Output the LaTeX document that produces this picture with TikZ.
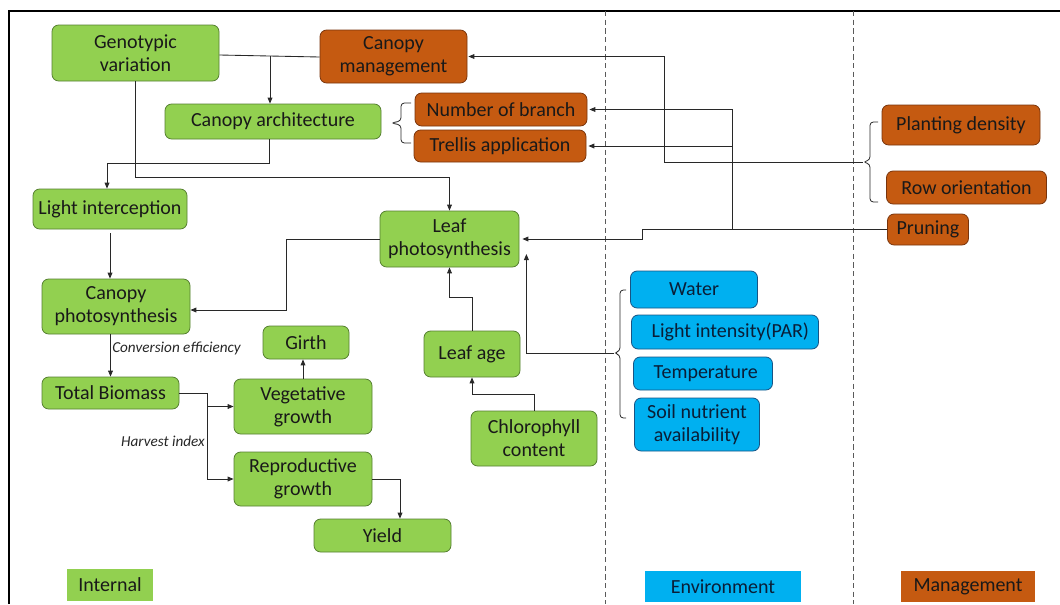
\documentclass[tikz,border=0pt]{standalone}
\usepackage{fontspec}
\setmainfont{Carlito}
\usetikzlibrary{arrows.meta,calc}
\definecolor{gfill}{RGB}{146,208,80}
\definecolor{gdraw}{RGB}{84,126,48}
\definecolor{ofill}{RGB}{197,90,17}
\definecolor{odraw}{RGB}{120,52,12}
\definecolor{bfill}{RGB}{0,176,240}
\definecolor{bdraw}{RGB}{24,84,132}
\definecolor{btext}{RGB}{10,30,55}
\definecolor{ln}{RGB}{40,40,40}
\definecolor{dash}{RGB}{90,90,90}
\begin{document}
\begin{tikzpicture}[x=0.75pt,y=-0.75pt,
  sz/.style 2 args={minimum width=#1*0.75pt, minimum height=#2*0.75pt},
  box/.style={rounded corners=5pt, draw, line width=0.6pt, align=center, inner sep=0pt,
              font=\fontsize{15}{17.4}\selectfont, text=black!90},
  gbox/.style={box, fill=gfill, draw=gdraw},
  obox/.style={box, fill=ofill, draw=odraw},
  bbox/.style={box, fill=bfill, draw=bdraw, text=btext},
  legend/.style={inner sep=0pt, align=center, font=\fontsize{15}{17.4}\selectfont, text=black!90},
  lab/.style={inner sep=0pt, font=\fontsize{11.4}{13}\itshape\selectfont, text=black!85},
  conn/.style={draw=ln, line width=0.65pt},
  arr/.style={conn, -{Triangle[length=4.5pt,width=3.6pt]}},
  bracket/.style={draw=ln, line width=0.6pt, rounded corners=2.5pt},
  divider/.style={draw=dash, line width=0.6pt, dash pattern=on 4pt off 2.5pt}
]
\useasboundingbox (0,0) rectangle (1060,604);
% frame and dividers
\draw[line width=1.5pt] (9,604) -- (9,11) -- (1060,11);
\draw[divider] (605,11) -- (605,604);
\draw[divider] (853,11) -- (853,604);

% internal nodes
\node[gbox, sz={167}{56}] (gen) at (135.5,53) {Genotypic\\variation};
\node[gbox, sz={216}{35}] (arch) at (273,121.5) {Canopy architecture};
\node[gbox, sz={154}{40}] (light) at (110,209) {Light interception};
\node[gbox, sz={139}{56}] (leafph) at (449.5,239) {Leaf\\photosynthesis};
\node[gbox, sz={148}{55}] (canph) at (116,306.5) {Canopy\\photosynthesis};
\node[gbox, sz={86}{33}] (girth) at (306,342.5) {Girth};
\node[gbox, sz={137}{32}] (biom) at (110.5,393) {Total Biomass};
\node[gbox, sz={138}{55}] (veg) at (303,406.5) {Vegetative\\growth};
\node[gbox, sz={138}{54}] (rep) at (303,479) {Reproductive\\growth};
\node[gbox, sz={137}{33}] (yield) at (382.5,535.5) {Yield};
\node[gbox, sz={96}{46}] (leafage) at (472,354) {Leaf age};
\node[gbox, sz={126}{55}] (chl) at (534,438.5) {Chlorophyll\\content};

% management nodes
\node[obox, sz={147}{53}] (cman) at (393.5,56.5) {Canopy\\management};
\node[obox, sz={172}{33}] (nob) at (501,109.5) {Number of branch};
\node[obox, sz={172}{32}] (trel) at (500,146) {Trellis application};
\node[obox, sz={158}{40}] (plant) at (961,125) {Planting density};
\node[obox, sz={160}{33}] (row) at (966.5,187.5) {Row orientation};
\node[obox, sz={81}{31}] (prun) at (928,229.5) {Pruning};

% environment nodes
\node[bbox, sz={127}{37}] (water) at (694,289.5) {Water};
\node[bbox, sz={187}{34}] (lint) at (725,332) {\hspace*{8pt}Light intensity(PAR)};
\node[bbox, sz={139}{33}] (temp) at (703,373.5) {\hspace*{4pt}Temperature};
\node[bbox, sz={125}{53}] (soil) at (697,424.5) {Soil nutrient\\availability};

% legend
\node[legend, fill=gfill, sz={86}{32}] (legI) at (110,585) {Internal};
\node[legend, fill=bfill, sz={156}{31}, text=btext] (legE) at (723,586.5) {Environment};
\node[legend, fill=ofill, sz={134}{31}] (legM) at (968,586.5) {Management};

% brackets
\draw[bracket] (411,103) -- (401,103) -- (401,121) -- (391,123) -- (401,125) -- (401,143) -- (411,143);
\coordinate (b1tip) at (391,123);
\draw[bracket] (878,122) -- (870,122) -- (870,160) -- (863,162) -- (870,164) -- (870,202) -- (878,202);
\coordinate (b2tip) at (863,162);
\draw[bracket] (626,290) -- (620,290) -- (620,351) -- (614,353) -- (620,355) -- (620,418) -- (626,418);
\coordinate (b3tip) at (614,353);

% connectors
\draw[conn] (gen.east |- 0,55) -- (cman.west |- 0,57);
\coordinate (j1) at (270,56);
\draw[arr] (j1) -- (j1 |- arch.north);
\draw[arr] (gen.south) -- (gen.south |- 0,177) -| (leafph.north);
\draw[arr] ($(arch.south)+(-3.5,0)$) -- ($(arch.south |- 0,163)+(-3.5,0)$) -| ($(light.north)+(-3,0)$);
\draw[arr] ($(light.south)+(0,4)$) -- (light.south |- canph.north);
\draw[arr] (leafph.west) -| (286,310) -- (canph.east |- 0,310);
\draw[arr] (biom.north |- canph.south) -- (biom.north);
\node[lab, anchor=west] (convlab) at (112,348) {Conversion efficiency};
\coordinate (j2) at (207,393);
\draw[conn] (biom.east) -- (j2);
\draw[arr] (j2) |- (veg.west);
\draw[arr] (j2) |- (rep.west);
\node[lab, anchor=east] (harvlab) at (205,441) {Harvest index};
\draw[arr] (veg.north) -- (veg.north |- girth.south);
\draw[arr] (rep.east) -| ($(yield.north)+(17.5,0)$);
\draw[arr] (leafage.north) -- ++(0,-33) -| (leafph.south);
\draw[arr] (chl.north) -- (chl.north |- 0,394) -| (leafage.south);
\draw[arr] (b3tip) -| ($(leafph.east)+(7,15)$);
\coordinate (j3) at (642,229.5);
\draw[arr] (prun.west) -- (j3) -- (642,239) -- ($(leafph.east)+(3,0)$);
\draw[arr] (732,229.5) |- ($(nob.east)+(2,0)$);
\draw[arr] (732,146) -- ($(trel.east)+(2,0)$);
\draw[arr] (b2tip) -| (664.5,56.5) -- ($(cman.east)+(1,0)$);
\end{tikzpicture}
\end{document}
